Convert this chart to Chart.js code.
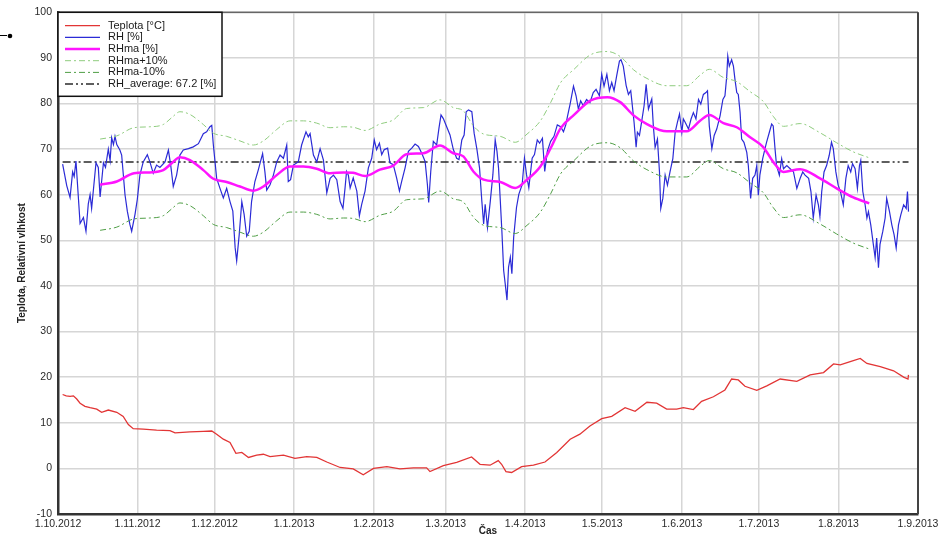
<!DOCTYPE html>
<html>
<head>
<meta charset="utf-8">
<title>Teplota, Relativní vlhkost</title>
<script src="https://cdn.jsdelivr.net/npm/chart.js@4/dist/chart.umd.min.js"></script>
<style>
  html, body { margin: 0; padding: 0; background: #fff; }
</style>
</head>
<body>
<canvas id="chart" width="945" height="541"></canvas>
<script>
// x values are days since 1.10.2012
const tickDays = [0, 31, 61, 92, 123, 151, 182, 212, 243, 273, 304, 335];
const tickLabels = ["1.10.2012", "1.11.2012", "1.12.2012", "1.1.2013", "1.2.2013", "1.3.2013",
  "1.4.2013", "1.5.2013", "1.6.2013", "1.7.2013", "1.8.2013", "1.9.2013"];

// Teplota [°C]
const tempSeries = [
  [1.8, 16.2], [3.2, 15.9], [4.7, 15.8], [6, 15.9], [7.3, 15.2], [8.6, 14.3], [10.5, 13.6], [12.5, 13.3],
  [15.1, 13], [17, 12.3], [19.6, 12.8], [22.9, 12.3], [25.4, 11.4], [27.4, 9.6], [29.3, 8.7], [33.2, 8.6],
  [38.4, 8.4], [43.6, 8.3], [45.6, 7.8], [51.4, 8], [56.6, 8.1], [59.9, 8.2], [61.8, 7.5], [64.4, 6.4],
  [67, 5.7], [69.3, 3.3], [71.6, 3.5], [74.2, 2.4], [77.4, 2.9], [80, 3.1], [82.6, 2.6], [87.8, 2.9],
  [92.3, 2.2], [96.9, 2.6], [100.8, 2.4], [104.7, 1.4], [109.9, 0.2], [115, -0.1], [118.9, -1.4], [122.9, 0],
  [128.1, 0.4], [133.2, -0.1], [138.4, 0.1], [143.6, 0.1], [144.9, -0.7], [150.1, 0.6], [155.3, 1.3], [161.1, 2.5],
  [164.4, 0.9], [168.3, 0.7], [171.5, 1.7], [172.8, 0.9], [174.5, -0.7], [176.7, -0.9], [180.6, 0.4], [185.2, 0.7],
  [189.7, 1.4], [194.3, 3.5], [199.5, 6.4], [203.3, 7.5], [207.2, 9.3], [211.8, 10.9], [215.7, 11.4], [220.9, 13.3],
  [224.8, 12.5], [229.4, 14.5], [233.2, 14.3], [237.1, 13], [241, 13], [243.6, 13.3], [247.5, 12.9], [250.7, 14.7],
  [255.3, 15.7], [259.8, 17.2], [262.4, 19.6], [265, 19.4], [267.6, 18], [272.2, 17.1], [276.1, 18.1], [281.3, 19.6],
  [287.8, 19.1], [293, 20.5], [298.2, 21], [302.1, 22.9], [304.7, 22.7], [308.6, 23.4], [312.5, 24.1], [315.1, 23],
  [320.3, 22.3], [325.5, 21.4], [329.4, 20], [331.1, 19.6], [331.3, 20.5]
];

// RH [%]
const rhSeries = [
  [1.8, 66.7], [3.4, 62], [4.7, 59.4], [5.7, 65], [6.3, 64], [7.0, 67.4], [8.6, 53.7], [9.9, 55], [10.9, 52],
  [11.8, 58], [12.5, 60], [13.1, 57], [14.8, 67], [15.7, 66], [16.4, 59.5], [17.7, 67], [18.5, 66], [19.6, 70],
  [20.3, 67.5], [20.9, 72.5], [21.6, 71], [22.2, 72.8], [22.9, 71], [24.1, 69.8], [24.8, 68.7], [26.1, 60],
  [27.0, 56.4], [28.0, 53.5], [28.7, 52], [30.0, 55.7], [30.9, 59], [31.9, 64.3], [33.2, 67.2], [34.8, 68.8],
  [35.8, 67.2], [37.1, 64.7], [38.4, 66.5], [39.7, 66], [41.7, 67.2], [43.0, 69.8], [43.9, 66.5], [44.9, 61.8],
  [46.2, 64.3], [47.5, 68.7], [48.8, 69.8], [50.8, 70.1], [52.7, 70.5], [54.7, 71.2], [56.6, 73.4], [57.9, 73.8],
  [59.2, 74.9], [59.9, 75.2], [60.5, 71], [61.8, 63.6], [63.1, 61.4], [64.4, 59.3], [65.7, 61.4], [67.0, 58.5],
  [68.1, 56.4], [69.0, 48.4], [69.6, 45.5], [70.6, 51.3], [71.6, 58.5], [72.5, 55.7], [73.5, 50.9], [74.5, 52],
  [75.4, 58.5], [76.7, 62.9], [78.0, 65.4], [79.7, 69], [80.6, 65], [81.3, 61], [82.6, 62.2], [83.9, 64.3],
  [85.2, 67.2], [86.5, 68.7], [87.8, 68], [89.1, 70.9], [89.7, 62.9], [90.6, 63.3], [91.7, 66.5], [93.6, 67.2],
  [94.9, 70.9], [96.6, 73.8], [97.5, 72.7], [98.2, 73.4], [99.5, 68.7], [100.8, 67.2], [102.1, 70.1], [103.4, 67.6],
  [104.7, 60.4], [106.0, 63.6], [107.3, 64.3], [108.6, 63.3], [109.9, 58.5], [111.0, 57], [111.8, 61.4], [112.4, 65.1],
  [113.1, 64.3], [113.8, 61.5], [115.0, 63.7], [116.4, 60.8], [117.4, 55.4], [118.3, 57.9], [119.6, 60.8], [120.9, 65.9],
  [122.2, 68], [123.2, 72], [124.1, 69.9], [125.2, 71.3], [126.1, 68.8], [127.1, 69.9], [128.4, 70.2], [129.3, 67],
  [130.6, 66.6], [131.9, 63.7], [133.0, 60.8], [133.9, 63], [135.2, 65.9], [136.5, 69.5], [137.8, 70.2], [139.1, 71.1],
  [140.4, 70.6], [141.7, 69.1], [143.0, 67.3], [143.9, 62.2], [144.4, 58.3], [145.2, 65.1], [146.2, 71.7], [147.5, 70.9],
  [148.4, 74.6], [149.2, 77.5], [150.1, 76.7], [151.4, 74.9], [152.7, 73.1], [154.0, 69.9], [155.3, 68], [156.2, 67.7],
  [157.3, 72], [158.2, 73.1], [159.0, 78.2], [159.9, 78.6], [161.2, 78.2], [162.1, 73.5], [163.2, 69.9], [164.2, 65.9],
  [165.1, 58.6], [165.8, 53.6], [166.4, 57.9], [167.3, 52.8], [168.4, 58.6], [169.4, 64.4], [170.3, 72], [171.0, 69.5],
  [171.6, 65.9], [172.3, 58.6], [172.9, 52.1], [173.6, 43.4], [174.2, 40.5], [174.9, 36.9], [175.5, 44.1], [176.2, 46.3],
  [176.8, 42.7], [177.5, 50.7], [178.6, 57.2], [179.5, 60.1], [180.8, 62.2], [181.7, 68], [182.5, 64.4], [183.4, 61.5],
  [184.7, 68], [185.6, 68.8], [186.7, 72], [187.6, 71.3], [188.7, 72.4], [189.6, 65.1], [190.6, 69.5], [191.9, 71.7],
  [193.2, 72.8], [194.5, 75.3], [195.8, 74.9], [196.9, 73.8], [197.8, 75.3], [198.4, 77], [199.5, 79.9], [200.8, 83.8],
  [201.8, 81.7], [202.7, 78.8], [203.6, 80.6], [204.6, 79.5], [205.9, 80.9], [207.2, 80.2], [208.5, 82.4], [209.6, 83.1],
  [210.9, 81.7], [211.8, 86.4], [212.7, 83.8], [213.8, 86.4], [214.8, 82.8], [215.7, 84.6], [216.6, 82.8], [217.6, 86],
  [218.7, 89.3], [219.3, 89.6], [220.2, 88.2], [221.3, 84], [222.2, 82], [223.1, 82.8], [223.6, 80.2], [224.4, 75.9],
  [225.2, 70.4], [225.7, 73.7], [226.5, 73], [227.4, 76.2], [228.3, 79.5], [229.1, 84.2], [230.0, 78.8], [231.3, 81],
  [231.9, 75.1], [232.6, 70.4], [233.5, 72.2], [234.3, 65], [234.8, 57], [235.6, 59.2], [236.5, 64.3], [237.4, 62.1],
  [238.4, 65], [239.5, 67.9], [240.4, 73.7], [241.3, 75.9], [242.1, 77.7], [243.0, 73.7], [243.6, 76.6], [244.3, 75.9],
  [245.6, 74.4], [246.6, 76.6], [247.5, 78], [248.5, 76.6], [249.5, 80.9], [250.4, 79.9], [251.4, 82], [252.4, 82.4],
  [253.0, 82.8], [253.7, 75.1], [254.7, 70.1], [255.6, 73], [256.6, 74.4], [257.9, 77.3], [259.0, 80.9], [259.8, 81.7],
  [260.5, 86], [260.9, 90.4], [261.5, 88.2], [262.4, 89.6], [263.1, 88.2], [263.7, 85.3], [264.4, 82.4], [265.0, 82],
  [265.7, 78], [266.3, 72.2], [267.2, 71.5], [268.3, 69.3], [268.9, 66.4], [269.8, 59.2], [270.6, 63.6], [271.5, 64.3],
  [272.2, 66.4], [272.8, 59.9], [273.4, 64.3], [274.5, 67.9], [275.4, 70.1], [276.0, 71.5], [277.1, 73.7], [278.0, 75.5],
  [278.6, 75.1], [279.3, 70.1], [279.9, 66.4], [281.0, 64.3], [281.9, 67.9], [282.6, 65.7], [283.9, 66.4], [285.2, 65.7],
  [286.5, 65], [287.8, 61.4], [289.1, 63.6], [290.1, 65], [291.0, 64.3], [292.4, 63.6], [293.3, 60.7], [294.2, 54.9],
  [295.3, 59.9], [296.2, 57.8], [296.8, 55.2], [297.5, 60.7], [298.4, 65], [299.4, 66.4], [300.4, 68.6], [301.3, 71.5],
  [302.0, 70.1], [303.0, 65], [303.9, 62.1], [304.8, 60.7], [305.9, 57.8], [306.9, 63.6], [307.8, 66.4], [308.8, 65],
  [309.5, 66.8], [310.5, 65.7], [311.4, 61.4], [312.2, 66.4], [312.7, 67.5], [313.5, 60.7], [314.4, 57.8], [315.1, 54.9],
  [315.7, 56.3], [316.6, 53.4], [317.6, 49.1], [318.3, 46.2], [318.9, 50.5], [319.6, 44], [320.2, 49.1], [321.3, 52],
  [322.2, 54.9], [322.8, 59.2], [323.9, 56.3], [324.8, 53.4], [325.7, 51.2], [326.5, 48.3], [327.4, 53.4], [328.3, 55.6],
  [329.4, 57.8], [330.4, 57], [330.9, 60.7], [331.3, 56.3]
];

// RHma [%] and its +/-10 band
const maSeries = [
  [16.4, 62.2], [22.9, 62.9], [29.6, 64.7], [35.8, 64.9], [41, 65.4], [44.3, 66.9], [47.5, 68.2], [51.4, 67.6],
  [56.6, 65.4], [60.5, 63.5], [65.7, 62.8], [70.9, 61.8], [76.1, 60.9], [80, 61.8], [85.2, 64.3], [90.4, 66.2],
  [95.6, 66.2], [100.8, 65.7], [106, 64.7], [111.2, 64.9], [115, 64.8], [119.6, 64.1], [125.4, 65.5], [130.6, 66.4],
  [135.8, 68.9], [142.3, 69.1], [148.8, 70.8], [154, 69.1], [157.9, 68.4], [161.8, 65.1], [165.8, 63.3], [172.3, 62.8],
  [178.1, 61.5], [182.7, 63.3], [187.9, 66.2], [191.9, 70.2], [195.8, 74.6], [201, 77.5], [207.5, 80.7], [214, 81.4],
  [219, 80.3], [224.2, 77.4], [229.4, 75.5], [237.2, 73.9], [244.9, 73.9], [250.1, 76.2], [253.7, 77.5], [259.2, 75.7],
  [264.4, 74.8], [269.6, 72.6], [274.8, 70.4], [278.6, 67.2], [282.6, 65], [289.1, 65.6], [296.8, 63.6], [303.3, 61.4],
  [309.8, 59.4], [316, 58.1]
];
const maUpperSeries = [
  [16.4, 72.2], [22.9, 72.9], [29.6, 74.7], [35.8, 74.9], [41, 75.4], [44.3, 76.9], [47.5, 78.2], [51.4, 77.6],
  [56.6, 75.4], [60.5, 73.5], [65.7, 72.8], [70.9, 71.8], [76.1, 70.9], [80, 71.8], [85.2, 74.3], [90.4, 76.2],
  [95.6, 76.2], [100.8, 75.7], [106, 74.7], [111.2, 74.9], [115, 74.8], [119.6, 74.1], [125.4, 75.5], [130.6, 76.4],
  [135.8, 78.9], [142.3, 79.1], [148.8, 80.8], [154, 79.1], [157.9, 78.4], [161.8, 75.1], [165.8, 73.3], [172.3, 72.8],
  [178.1, 71.5], [182.7, 73.3], [187.9, 76.2], [191.9, 80.2], [195.8, 84.6], [201, 87.5], [207.5, 90.7], [214, 91.4],
  [219, 90.3], [224.2, 87.4], [229.4, 85.5], [237.2, 83.9], [244.9, 83.9], [250.1, 86.2], [253.7, 87.5], [259.2, 85.7],
  [264.4, 84.8], [269.6, 82.6], [274.8, 80.4], [278.6, 77.2], [282.6, 75], [289.1, 75.6], [296.8, 73.6], [303.3, 71.4],
  [309.8, 69.4], [316, 68.1]
];
const maLowerSeries = [
  [16.4, 52.2], [22.9, 52.9], [29.6, 54.7], [35.8, 54.9], [41, 55.4], [44.3, 56.9], [47.5, 58.2], [51.4, 57.6],
  [56.6, 55.4], [60.5, 53.5], [65.7, 52.8], [70.9, 51.8], [76.1, 50.9], [80, 51.8], [85.2, 54.3], [90.4, 56.2],
  [95.6, 56.2], [100.8, 55.7], [106, 54.7], [111.2, 54.9], [115, 54.8], [119.6, 54.1], [125.4, 55.5], [130.6, 56.4],
  [135.8, 58.9], [142.3, 59.1], [148.8, 60.8], [154, 59.1], [157.9, 58.4], [161.8, 55.1], [165.8, 53.3], [172.3, 52.8],
  [178.1, 51.5], [182.7, 53.3], [187.9, 56.2], [191.9, 60.2], [195.8, 64.6], [201, 67.5], [207.5, 70.7], [214, 71.4],
  [219, 70.3], [224.2, 67.4], [229.4, 65.5], [237.2, 63.9], [244.9, 63.9], [250.1, 66.2], [253.7, 67.5], [259.2, 65.7],
  [264.4, 64.8], [269.6, 62.6], [274.8, 60.4], [278.6, 57.2], [282.6, 55], [289.1, 55.6], [296.8, 53.6], [303.3, 51.4],
  [309.8, 49.4], [316, 48.1]
];

// RH_average: 67.2 [%]
const rhAverage = 67.2;
const averageDays = [1.8, 331.3];

const toPoints = (series) => series.map(([x, y]) => ({ x: x, y: y }));

// Legend drawn inside the plot, top left, with a black frame
const legendBox = {
  id: "legendBox",
  afterDatasetsDraw(chart) {
    const { ctx, chartArea } = chart;
    const x0 = chartArea.left;
    const y0 = chartArea.top;
    ctx.save();
    ctx.fillStyle = "#fff";
    ctx.fillRect(x0, y0, 164, 84);
    ctx.strokeStyle = "#111";
    ctx.lineWidth = 1.5;
    ctx.strokeRect(x0, y0, 164, 84);
    ctx.font = '11px "Liberation Sans", Arial, sans-serif';
    ctx.textBaseline = "middle";
    chart.data.datasets.forEach((ds, i) => {
      const y = y0 + 13.3 + i * 11.7;
      ctx.beginPath();
      ctx.setLineDash(ds.borderDash || []);
      ctx.strokeStyle = ds.borderColor;
      ctx.lineWidth = ds.borderWidth;
      ctx.moveTo(x0 + 7, y);
      ctx.lineTo(x0 + 42, y);
      ctx.stroke();
      ctx.setLineDash([]);
      ctx.fillStyle = "#1a1a1a";
      ctx.fillText(ds.label, x0 + 50, y);
    });
    ctx.restore();
  },
};

// Frame round the plot area (top and right sides)
const plotFrame = {
  id: "plotFrame",
  beforeDatasetsDraw(chart) {
    const { ctx, chartArea } = chart;
    ctx.save();
    ctx.strokeStyle = "#666";
    ctx.lineWidth = 1.5;
    ctx.beginPath();
    ctx.moveTo(chartArea.left, chartArea.top);
    ctx.lineTo(chartArea.right, chartArea.top);
    ctx.stroke();
    ctx.strokeStyle = "#444";
    ctx.lineWidth = 2;
    ctx.beginPath();
    ctx.moveTo(chartArea.right, chartArea.top);
    ctx.lineTo(chartArea.right, chartArea.bottom);
    ctx.stroke();
    // small mark left of the plot
    ctx.strokeStyle = "#000";
    ctx.lineWidth = 1;
    ctx.beginPath();
    ctx.moveTo(0, 35.5);
    ctx.lineTo(7, 35.5);
    ctx.stroke();
    ctx.fillStyle = "#000";
    ctx.beginPath();
    ctx.arc(10, 36, 2.3, 0, Math.PI * 2);
    ctx.fill();
    ctx.restore();
  },
};

const tickFont = { family: '"Liberation Sans", Arial, sans-serif', size: 10.5 };

new Chart(document.getElementById("chart"), {
  type: "line",
  data: {
    datasets: [
      {
        label: "Teplota [°C]",
        data: toPoints(tempSeries),
        borderColor: "#e23535",
        borderWidth: 1.3,
        order: 4,
      },
      {
        label: "RH [%]",
        data: toPoints(rhSeries),
        borderColor: "#2b2bd6",
        borderWidth: 1.2,
        order: 2,
      },
      {
        label: "RHma [%]",
        data: toPoints(maSeries),
        borderColor: "#ff14ff",
        borderWidth: 2.5,
        cubicInterpolationMode: "monotone",
        order: 0,
      },
      {
        label: "RHma+10%",
        data: toPoints(maUpperSeries),
        borderColor: "#8fcc7e",
        borderWidth: 1,
        borderDash: [6, 3, 2, 3],
        cubicInterpolationMode: "monotone",
        order: 1,
      },
      {
        label: "RHma-10%",
        data: toPoints(maLowerSeries),
        borderColor: "#4f9e45",
        borderWidth: 1,
        borderDash: [6, 3, 2, 3],
        cubicInterpolationMode: "monotone",
        order: 1,
      },
      {
        label: "RH_average: 67.2 [%]",
        data: averageDays.map((d) => ({ x: d, y: rhAverage })),
        borderColor: "#2a2a2a",
        borderWidth: 1.5,
        borderDash: [8, 3, 2, 3, 2, 3],
        order: 3,
      },
    ],
  },
  options: {
    responsive: false,
    devicePixelRatio: 1,
    animation: false,
    events: [],
    elements: { point: { radius: 0 } },
    layout: { padding: { top: 9, right: 27, left: 0, bottom: 0 } },
    plugins: {
      legend: { display: false },
      tooltip: { enabled: false },
    },
    scales: {
      x: {
        type: "linear",
        min: 0,
        max: 335,
        afterBuildTicks: (scale) => {
          scale.ticks = tickDays.map((d) => ({ value: d }));
        },
        afterFit: (scale) => {
          scale.height = 27;
        },
        ticks: {
          autoSkip: false,
          maxRotation: 0,
          padding: 4,
          color: "#2a2a2a",
          font: tickFont,
          callback: (value) => tickLabels[tickDays.indexOf(value)],
        },
        grid: { color: "#d6d6d6", lineWidth: 1.5, drawTicks: false },
        border: { color: "#333", width: 2.5 },
        title: {
          display: true,
          text: "Čas",
          color: "#222",
          font: { family: '"Liberation Sans", Arial, sans-serif', size: 10, weight: "bold" },
          padding: { top: 0, bottom: 4 },
        },
      },
      y: {
        min: -10,
        max: 100,
        afterFit: (scale) => {
          scale.width = 58;
        },
        ticks: {
          stepSize: 10,
          padding: 6,
          color: "#2a2a2a",
          font: tickFont,
        },
        grid: { color: "#d6d6d6", lineWidth: 1.5, drawTicks: false },
        border: { color: "#333", width: 2.5 },
        title: {
          display: true,
          text: "Teplota, Relativní vlhkost",
          color: "#222",
          font: { family: '"Liberation Sans", Arial, sans-serif', size: 10, weight: "bold" },
          padding: { top: 16, bottom: 0 },
        },
      },
    },
  },
  plugins: [plotFrame, legendBox],
});
</script>
</body>
</html>
